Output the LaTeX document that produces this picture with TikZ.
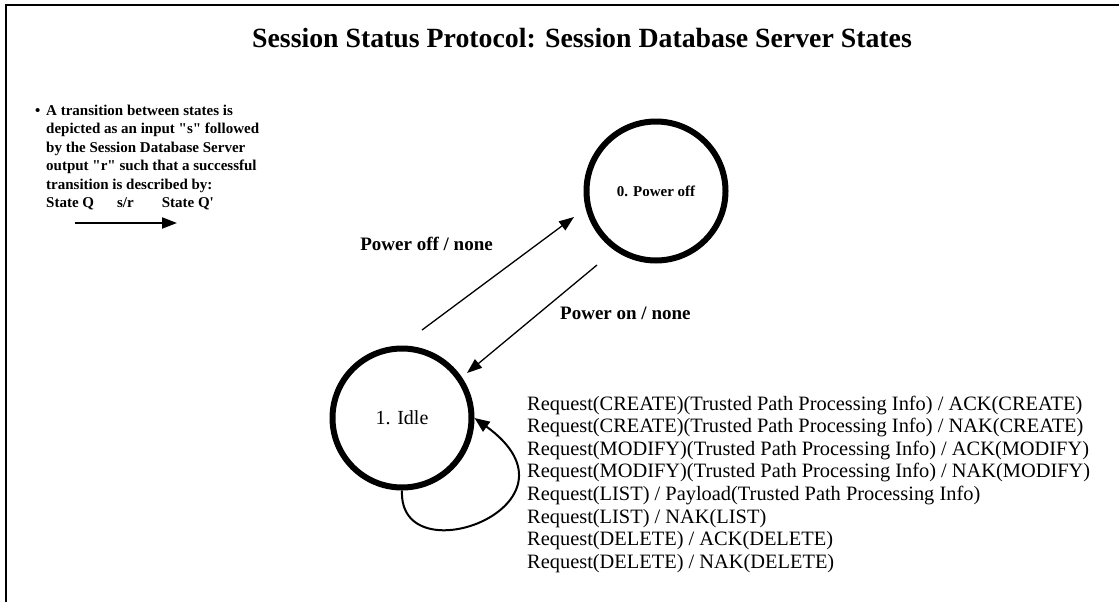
\documentclass[tikz,border=0pt]{standalone}
\usepackage{fontspec}
\setmainfont{Liberation Serif}
\usetikzlibrary{arrows.meta}
\begin{document}
\begin{tikzpicture}[x=1pt, y=-1pt,
  state/.style = {shape=circle, draw, line width=6pt,
    minimum size=139pt, inner sep=0pt},
  trans/.style = {-{Triangle[length=15pt,width=11pt]}, line width=1.3pt},
  lbl/.style = {font=\fontsize{19}{22}\selectfont\bfseries, inner sep=0pt},
  note/.style = {font=\fontsize{15}{18}\selectfont\bfseries,
    anchor=base west, inner sep=0pt},
  reqline/.style = {font=\fontsize{20.4}{22}\selectfont,
    anchor=base west, inner sep=0pt}
  ]
  \useasboundingbox[fill=white] (0,0) rectangle (1119,605);
  \draw[line width=2pt] (6,602) -- (6,5) -- (1119,5);

  \node[anchor=base, inner sep=0pt, font=\fontsize{27.8}{30}\selectfont\bfseries]
    (title) at (582,47) {Session Status Protocol: Session Database Server States};

  % legend
  \node[note] (bullet) at (35,115) {\textbullet};
  \foreach \txt [count=\i] in {A transition between states is,
      depicted as an input \textquotedbl s\textquotedbl\ followed,
      by the Session Database Server,
      output \textquotedbl r\textquotedbl\ such that a successful,
      transition is described by:,
      State Q\hspace{23pt}s/r\hspace{28pt}State Q\textquotesingle}
    \node[note] (note\i) at (46,96.5+18.5*\i) {\txt};
  \coordinate (legA) at (75,223);
  \coordinate (legB) at (177,223);
  \draw[trans, line width=2pt] (legA) -- (legB);

  % states
  \node[state] (off) at (656,191) {};
  \node[font=\fontsize{15}{18}\selectfont\bfseries, inner sep=0pt] at (off) {0. Power off};
  \node[state] (idle) at (402,418) {};
  \node[font=\fontsize{20}{22}\selectfont, inner sep=0pt] at (idle) {1. Idle};

  % transitions
  \coordinate (upA) at (422,330);
  \coordinate (upB) at (574,217);
  \coordinate (dnA) at (597,265);
  \coordinate (dnB) at (467,373);
  \draw[trans] (upA) -- (upB);
  \draw[trans] (dnA) -- (dnB);
  \node[lbl, anchor=base east] (offlbl) at (493,250) {Power off / none};
  \node[lbl, anchor=base west] (onlbl) at (560,319) {Power on / none};

  \draw[-{Triangle[length=15pt,width=12pt]}, line width=2pt]
    (idle.south) .. controls (398,578) and (595,505) .. (idle.east);

  \foreach \txt [count=\i] in {Request(CREATE)(Trusted Path Processing Info) / ACK(CREATE),
      Request(CREATE)(Trusted Path Processing Info) / NAK(CREATE),
      Request(MODIFY)(Trusted Path Processing Info) / ACK(MODIFY),
      Request(MODIFY)(Trusted Path Processing Info) / NAK(MODIFY),
      Request(LIST) / Payload(Trusted Path Processing Info),
      Request(LIST) / NAK(LIST),
      Request(DELETE) / ACK(DELETE),
      Request(DELETE) / NAK(DELETE)}
    \node[reqline] (req\i) at (527,387.4+22.6*\i) {\txt};
\end{tikzpicture}
\end{document}
